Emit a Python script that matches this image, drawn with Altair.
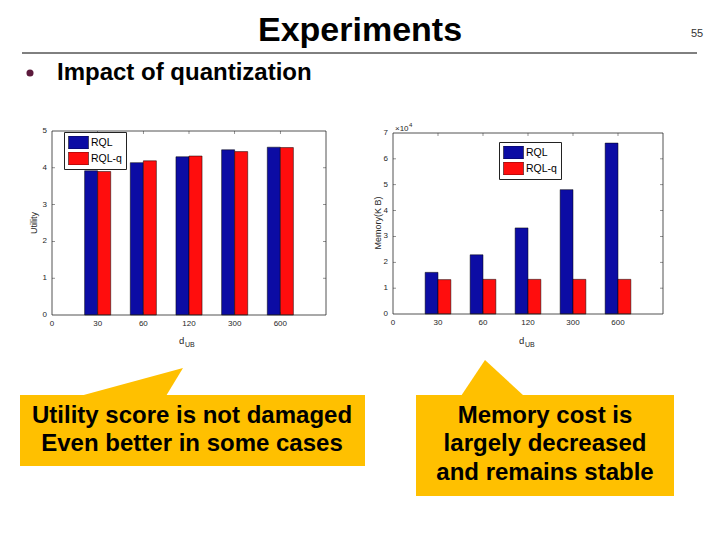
import altair as alt
import pandas as pd

# ---------------- data ----------------
d_ub_labels = ["30", "60", "120", "300", "600"]
series_names = ["RQL", "RQL-q"]
utility_rql = [3.92, 4.14, 4.30, 4.49, 4.56]
utility_rql_q = [3.90, 4.19, 4.32, 4.44, 4.55]
memory_rql_kb = [16100, 22900, 33300, 48100, 66100]
memory_rql_q_kb = [13300, 13400, 13400, 13400, 13400]
utility_ticks = [0, 1, 2, 3, 4, 5]
memory_ticks = [0, 10000, 20000, 30000, 40000, 50000, 60000, 70000]
x_tick_pos = [0, 1, 2, 3, 4, 5]
x_tick_labels = ["0"] + d_ub_labels

slide_title = "Experiments"
page_no = "55"
bullet_text = "Impact of quantization"
left_callout = ["Utility score is not damaged", "Even better in some cases"]
right_callout = ["Memory cost is", "largely decreased", "and remains stable"]

# ---------------- style ----------------
W, H = 720, 540
FONT = "Liberation Sans"
BLUE = "#0C0CA4"
RED = "#FF0D0D"
GOLD = "#FFC000"
AXC = "#262626"
BAR_W = 0.2857  # MATLAB grouped bar width for two series


def long_table(a, b):
    rows = []
    for i, lab in enumerate(d_ub_labels):
        rows.append({"d_ub": lab, "pos": i + 1, "series": series_names[0], "value": a[i]})
        rows.append({"d_ub": lab, "pos": i + 1, "series": series_names[1], "value": b[i]})
    return pd.DataFrame(rows)


def panel(df, yticks, ylabels, x_px, y_px, leg_x, leg_y):
    ymax = yticks[-1]
    xs = alt.Scale(domain=[0, 6], range=x_px, nice=False, zero=False)
    ys = alt.Scale(domain=[0, ymax], range=y_px, nice=False, zero=False)
    legend = alt.Legend(orient="none", legendX=leg_x, legendY=leg_y, title=None,
                        symbolType="M-1,-0.65H1V0.65H-1Z", symbolSize=400,
                        symbolStrokeColor="black", symbolStrokeWidth=0.5,
                        symbolOpacity=1, clipHeight=13, rowPadding=3,
                        labelFontSize=10.5, labelFont=FONT, labelColor="black",
                        labelOffset=2, padding=4, strokeColor="#222222",
                        fillColor="white", labelLimit=200)
    bars = alt.Chart(df).transform_calculate(
        x0=f"datum.pos - (datum.series == '{series_names[0]}' ? {BAR_W} : 0)",
        x1=f"datum.pos + (datum.series == '{series_names[0]}' ? 0 : {BAR_W})",
    ).mark_rect(stroke="black", strokeWidth=0.5).encode(
        x=alt.X("x0:Q", scale=xs, axis=None),
        x2=alt.X2("x1"),
        y=alt.Y("value:Q", scale=ys, axis=None),
        y2=alt.Y2Datum(0),
        color=alt.Color("series:N", scale=alt.Scale(domain=series_names, range=[BLUE, RED]),
                        legend=legend),
    )
    frame = alt.Chart(alt.Data(values=[{}])).mark_rect(
        fillOpacity=0, stroke=AXC, strokeWidth=0.8).encode(
        x=alt.XDatum(0, scale=xs, axis=None), x2=alt.X2Datum(6),
        y=alt.YDatum(0, scale=ys, axis=None), y2=alt.Y2Datum(ymax))
    tk = dict(color=AXC, thickness=0.7, size=3)
    ydf = pd.DataFrame({"v": yticks, "lab": ylabels})
    xdf = pd.DataFrame({"v": x_tick_pos, "lab": x_tick_labels})
    yin = ydf.iloc[1:-1]
    xin = xdf.iloc[1:]
    yl = alt.Chart(yin).mark_tick(orient="horizontal", xOffset=1.5, **tk).encode(
        x=alt.XDatum(0, scale=xs, axis=None), y=alt.Y("v:Q", scale=ys, axis=None))
    yr = alt.Chart(yin).mark_tick(orient="horizontal", xOffset=-1.5, **tk).encode(
        x=alt.XDatum(6, scale=xs, axis=None), y=alt.Y("v:Q", scale=ys, axis=None))
    xb = alt.Chart(xin).mark_tick(orient="vertical", yOffset=-1.5, **tk).encode(
        x=alt.X("v:Q", scale=xs, axis=None), y=alt.YDatum(0, scale=ys, axis=None))
    xt = alt.Chart(xin).mark_tick(orient="vertical", yOffset=1.5, **tk).encode(
        x=alt.X("v:Q", scale=xs, axis=None), y=alt.YDatum(ymax, scale=ys, axis=None))
    # tick labels
    ylab = alt.Chart(ydf).mark_text(align="right", baseline="middle", dx=-5, fontSize=8,
                                    font=FONT, color=AXC).encode(
        x=alt.XDatum(0, scale=xs, axis=None), y=alt.Y("v:Q", scale=ys, axis=None),
        text="lab:N")
    xlab = alt.Chart(xdf).mark_text(align="center", baseline="top", dy=5, fontSize=8,
                                    font=FONT, color=AXC).encode(
        x=alt.X("v:Q", scale=xs, axis=None), y=alt.YDatum(0, scale=ys, axis=None),
        text="lab:N")
    return alt.layer(bars, frame, yl, yr, xb, xt, ylab, xlab)


left = panel(long_table(utility_rql, utility_rql_q), utility_ticks,
             [str(v) for v in utility_ticks], [52, 326], [315, 131], 64, 132)
right = panel(long_table(memory_rql_kb, memory_rql_q_kb), memory_ticks,
              [str(v // 10000) for v in memory_ticks], [393, 663], [314, 133], 499, 142)

ONE = alt.Data(values=[{}])


def txt(s, x, y, size, bold=False, align="center", color="black", angle=0, baseline="alphabetic"):
    return alt.Chart(ONE).mark_text(
        text=s, fontSize=size, fontWeight="bold" if bold else "normal", align=align,
        baseline=baseline, color=color, font=FONT, angle=angle).encode(
        x=alt.value(x), y=alt.value(y))


def box(x1, x2, y1, y2):
    return alt.Chart(ONE).mark_rect(color=GOLD, opacity=1).encode(
        x=alt.value(x1), x2=alt.value(x2), y=alt.value(y1), y2=alt.value(y2))


def poly(path):
    return alt.Chart(ONE).mark_point(shape=path, size=4, filled=True, color=GOLD,
                                     opacity=1, strokeWidth=0).encode(
        x=alt.value(0), y=alt.value(0))


deco = [
    txt(slide_title, 360, 41, 34, bold=True),
    txt(page_no, 697, 37, 11, color="#333333"),
    alt.Chart(ONE).mark_rule(color="black", strokeWidth=1).encode(
        x=alt.value(22), x2=alt.value(697), y=alt.value(53)),
    alt.Chart(ONE).mark_circle(size=50, color="#5C1A3C", opacity=1).encode(
        x=alt.value(30), y=alt.value(73)),
    txt(bullet_text, 57, 80, 24, bold=True, align="left"),
    # axis titles
    txt("Utility", 34, 223, 9, color=AXC, angle=270, baseline="middle"),
    txt("Memory(K B)", 378, 223, 9, color=AXC, angle=270, baseline="middle"),
    txt("d", 179, 344, 9.5, align="left", color=AXC),
    txt("UB", 185, 347, 7, align="left", color=AXC),
    txt("d", 519, 344, 9.5, align="left", color=AXC),
    txt("UB", 525, 347, 7, align="left", color=AXC),
    txt("\u00d710", 395, 131, 8, align="left", color=AXC),
    txt("4", 409, 127, 6, align="left", color=AXC),
    # callouts
    poly("M80,396L183,368L166,396Z"),
    poly("M461,396L485,360L524,396Z"),
    box(20, 365, 395, 466),
    box(416, 674, 395, 496),
    txt(left_callout[0], 192, 423, 24, bold=True),
    txt(left_callout[1], 192, 451, 24, bold=True),
    txt(right_callout[0], 545, 423, 24, bold=True),
    txt(right_callout[1], 545, 451, 24, bold=True),
    txt(right_callout[2], 545, 480, 24, bold=True),
]

chart = alt.layer(left, right, *deco).resolve_scale(
    x="independent", y="independent", color="independent"
).resolve_legend(
    color="independent"
).properties(
    width=W, height=H, autosize=alt.AutoSizeParams(type="none"), padding=0,
    background="white"
).configure_view(stroke=None)

chart.save("out.html", embed_options={"renderer": "svg", "actions": False})
